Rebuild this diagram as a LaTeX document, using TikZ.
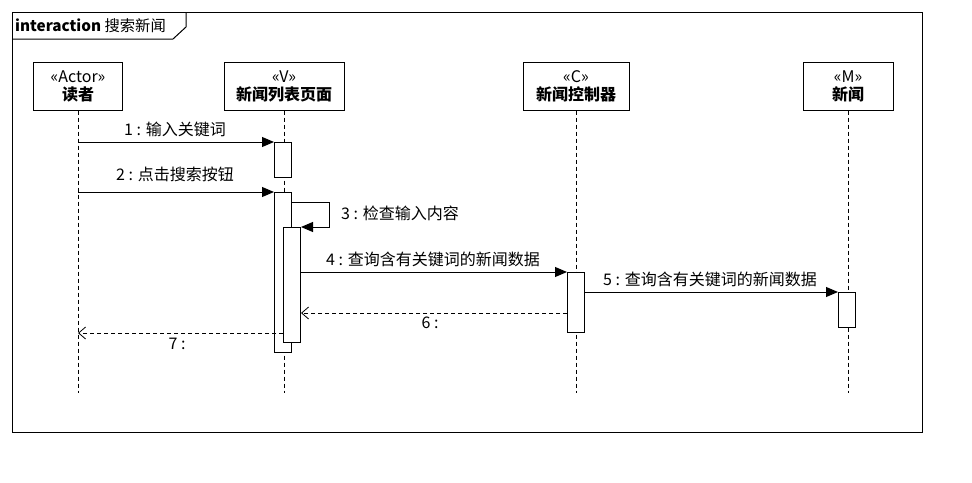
\documentclass[tikz,border=0pt]{standalone}
\usepackage{fontspec}
\setmainfont{Noto Sans CJK SC}
\usetikzlibrary{arrows.meta}

\begin{document}
\begin{tikzpicture}[x=1pt,y=-1pt,
    head/.style={draw,line width=1pt,minimum height=48pt,align=center,inner sep=0pt,font=\fontsize{16}{18}\selectfont},
    act/.style={draw,line width=1pt,fill=white,minimum width=17pt,inner sep=0pt,anchor=north},
    lifeline/.style={line width=0.8pt,dash pattern=on 4pt off 3pt},
    call/.style={line width=1pt,-{Triangle[length=12pt,width=10pt]}},
    reply/.style={line width=0.8pt,dash pattern=on 4pt off 3pt,-{Straight Barb[length=7pt,width=12pt]}},
    lbl/.style={font=\fontsize{16}{18}\selectfont,inner sep=0pt}]
  \useasboundingbox (0,0) rectangle (972,482);
  % frame
  \draw[line width=1pt] (12,12) rectangle (922,432);
  \draw[line width=1pt] (12,39) -- (173,39) -- (186,27) -- (186,12);
  \node[lbl,anchor=west,font=\fontsize{15.3}{18}\selectfont] (title) at (15,26) {\textbf{interaction} 搜索新闻};
  % lifelines
  \node[head,minimum width=89pt] (reader) at (78,86) {«Actor»\\\textbf{读者}};
  \node[head,minimum width=120pt] (view) at (284,86) {«V»\\\textbf{新闻列表页面}};
  \node[head,minimum width=106pt] (ctrl) at (576,86) {«C»\\\textbf{新闻控制器}};
  \node[head,minimum width=90pt] (news) at (848,86) {«M»\\\textbf{新闻}};
  \foreach \n in {reader,view,ctrl,news} {\draw[lifeline] (\n.south) -- ++(0,282);}
  % activations
  \node[act,minimum height=35pt] (a1) at (283,142) {};
  \node[act,minimum height=160pt] (a2) at (283,192) {};
  \node[act,minimum height=115pt] (a3) at (292,227) {};
  \node[act,minimum height=60pt] (a4) at (576,272) {};
  \node[act,minimum height=35pt] (a5) at (847,292) {};
  % messages
  \draw[call] (reader.south |- a1.north) -- (a1.north west);
  \node[lbl] (m1) at (175,129) {1 : 输入关键词};
  \draw[call] (reader.south |- a2.north) -- (a2.north west);
  \node[lbl] (m2) at (175,174) {2 : 点击搜索按钮};
  \draw[call] ([yshift=-10pt]a2.north east) -- ++(37,0) |- (a3.north east);
  \node[lbl,anchor=west] (m3) at (341,213) {3 : 检查输入内容};
  \draw[call] (a3.east |- a4.north) -- (a4.north west);
  \node[lbl] (m4) at (433,259) {4 : 查询含有关键词的新闻数据};
  \draw[call] (a4.east |- a5.north) -- (a5.north west);
  \node[lbl] (m5) at (710,279) {5 : 查询含有关键词的新闻数据};
  \draw[reply] ([yshift=20pt]a4.south west) coordinate (r6) -- (r6 -| a3.east);
  \node[lbl] (m6) at (430,323) {6 :};
  \draw[reply] ([yshift=10pt]a3.south west) coordinate (r7) -- (r7 -| reader.south);
  \node[lbl] (m7) at (177,344) {7 :};
\end{tikzpicture}
\end{document}
